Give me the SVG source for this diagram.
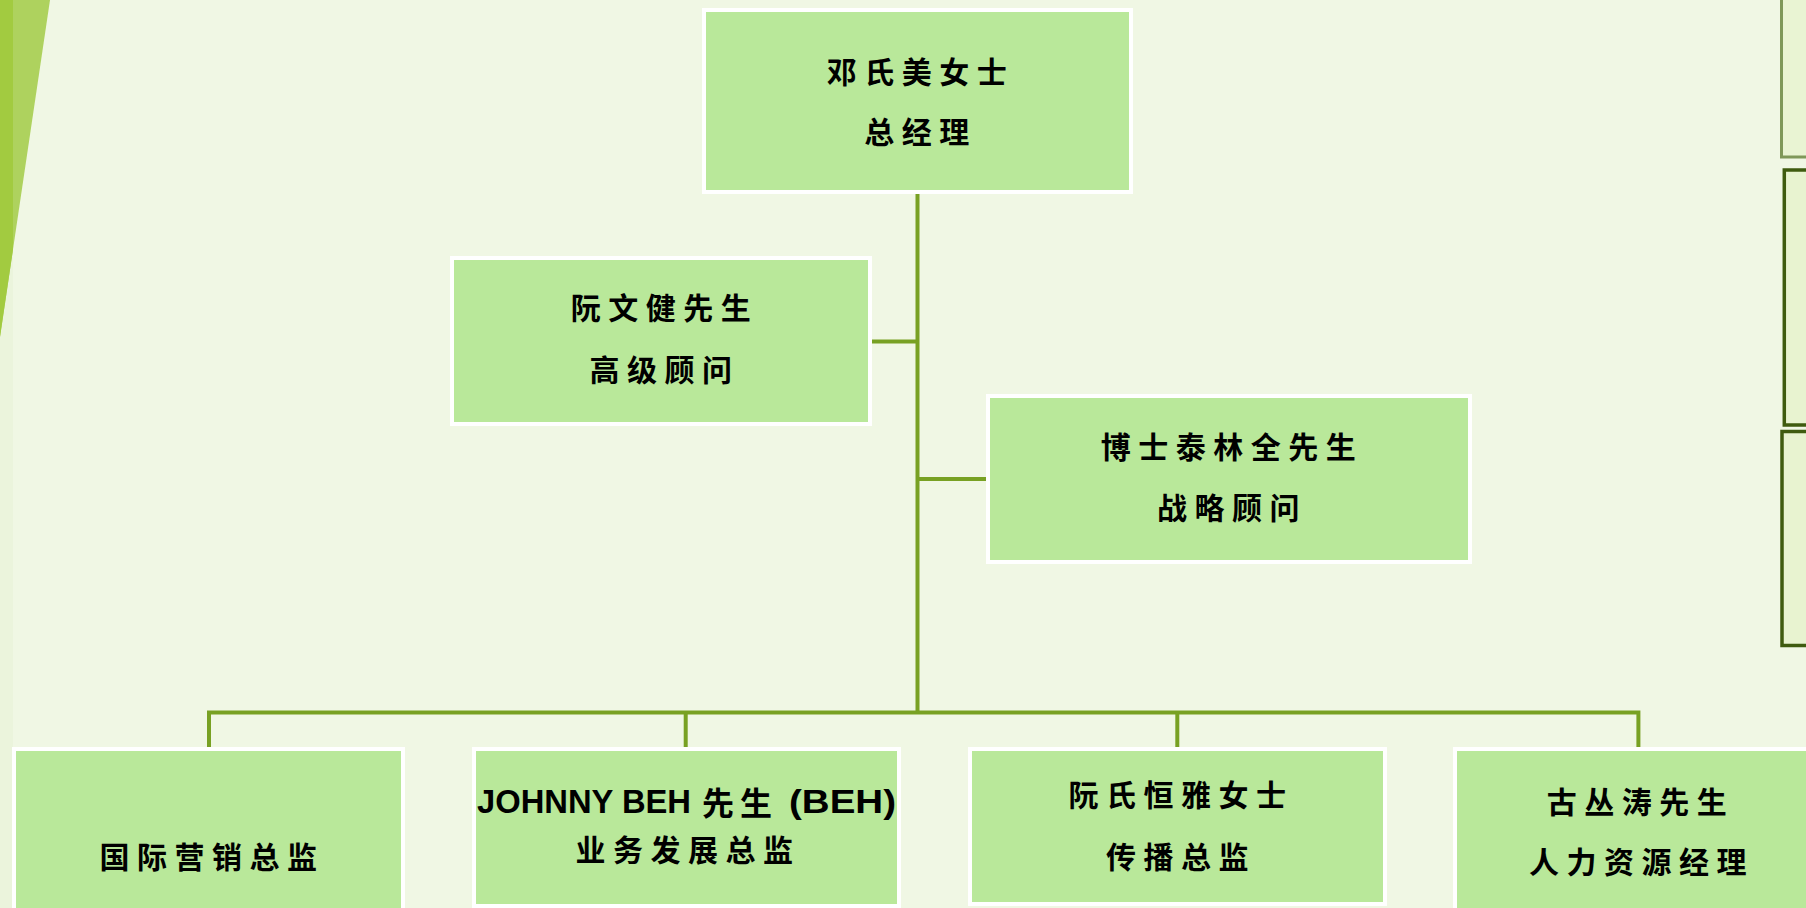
<svg xmlns="http://www.w3.org/2000/svg" width="1806" height="908" viewBox="0 0 1806 908">
<style>
.box{fill:#B9E89A;stroke:#FFFFFF;stroke-width:4}
.cn{font-family:"Noto Sans CJK SC","Noto Sans CJK TC",sans-serif;font-size:30px;font-weight:700;letter-spacing:7.5px;fill:#000;text-anchor:middle}
.lat{font-family:"Liberation Sans",Arial,sans-serif;font-size:34px;font-weight:700;fill:#000}
.conn{fill:none;stroke:#78A123;stroke-width:4;stroke-linejoin:miter}
</style>
<rect x="0" y="0" width="1806" height="908" fill="#F0F7E4"/>
<g id="decoration">
<rect x="0" y="0" width="13" height="908" fill="#EBF4DC"/>
<polygon points="0,0 50,0 0,337" fill="#AED25E"/>
<polygon points="0,0 13,0 13,249.4 0,337" fill="#A2CB40"/>
</g>
<g id="side-box-a"><rect x="1781.5" y="-10" width="100" height="167" fill="#E9F4D3" stroke="#7F9859" stroke-width="3"/></g>
<g id="side-box-b"><rect x="1784.3" y="170" width="100" height="255" fill="#E8F3D0" stroke="#3F5B0F" stroke-width="3.5"/></g>
<g id="side-box-c"><rect x="1782" y="431.5" width="100" height="214" fill="#E8F3D0" stroke="#3F5B0F" stroke-width="3.5"/></g>
<g id="connectors">
<path class="conn" d="M917.5 194 V712.5"/>
<path class="conn" d="M872 341.5 H917.5"/>
<path class="conn" d="M917.5 479 H986"/>
<path class="conn" d="M209 747 V712.5 H1638.4 V747"/>
<path class="conn" d="M685.7 712.5 V747"/>
<path class="conn" d="M1177.3 712.5 V747"/>
</g>
<g id="node-gm">
<rect class="box" x="704" y="10" width="427" height="182"/>
<text class="cn" x="920.5" y="83">邓氏美女士</text>
<text class="cn" x="920.5" y="143">总经理</text>
</g>
<g id="node-senior-advisor">
<rect class="box" x="452" y="258" width="418" height="166"/>
<text class="cn" x="664.5" y="319">阮文健先生</text>
<text class="cn" x="664.5" y="381">高级顾问</text>
</g>
<g id="node-strategy-advisor">
<rect class="box" x="988" y="396" width="482" height="166"/>
<text class="cn" x="1232" y="458">博士泰林全先生</text>
<text class="cn" x="1232" y="519">战略顾问</text>
</g>
<g id="node-intl-marketing">
<rect class="box" x="14" y="749" width="389" height="200"/>
<text class="cn" x="212" y="868">国际营销总监</text>
</g>
<g id="node-bizdev">
<rect class="box" x="474" y="749" width="425" height="157"/>
<text y="812.5"><tspan class="lat" x="477" textLength="214" lengthAdjust="spacingAndGlyphs">JOHNNY BEH</tspan></text>
<text y="815" style="font-family:'Noto Sans CJK SC',sans-serif;font-size:32px;font-weight:700;letter-spacing:6px"><tspan x="702">先生</tspan></text>
<text y="812.5"><tspan class="lat" x="789" textLength="107" lengthAdjust="spacingAndGlyphs">(BEH)</tspan></text>
<text class="cn" x="688" y="861">业务发展总监</text>
</g>
<g id="node-communications">
<rect class="box" x="970" y="749" width="415" height="155"/>
<text class="cn" x="1181" y="806">阮氏恒雅女士</text>
<text class="cn" x="1181" y="868">传播总监</text>
</g>
<g id="node-hr">
<rect class="box" x="1455" y="749" width="364" height="200"/>
<text class="cn" x="1640.5" y="813">古丛涛先生</text>
<text class="cn" x="1641.5" y="873">人力资源经理</text>
</g>
</svg>
